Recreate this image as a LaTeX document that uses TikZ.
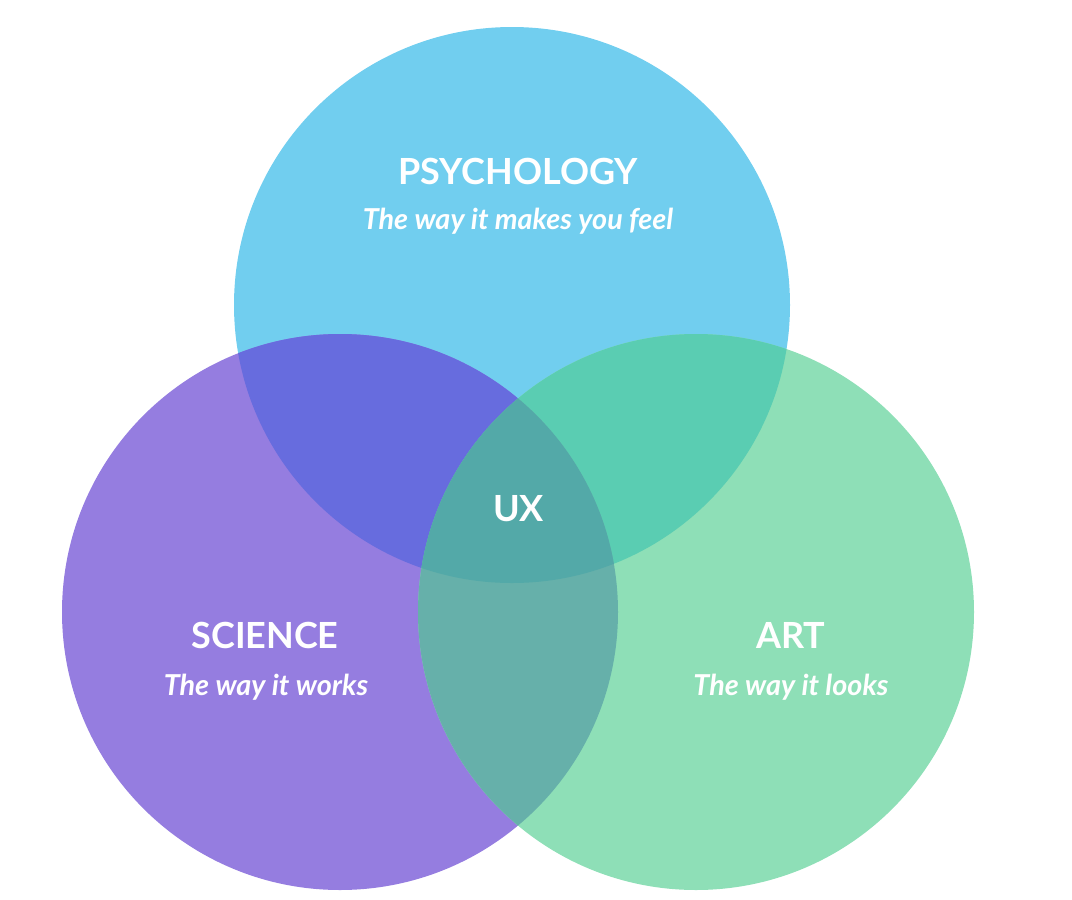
\documentclass[tikz,border=0pt]{standalone}
\usepackage{fontspec}
\setmainfont{Lato}
\definecolor{psy}{HTML}{71CEEF}
\definecolor{sci}{HTML}{957DE0}
\definecolor{art}{HTML}{8EDFB7}
\definecolor{psysci}{HTML}{676CDE}
\definecolor{psyart}{HTML}{5ACDB2}
\definecolor{sciart}{HTML}{66B0AA}
\definecolor{allc}{HTML}{53A9A8}
\tikzset{
  title/.style={text=white, font=\fontsize{36}{40}\selectfont\bfseries, anchor=base, inner sep=0pt},
  sub/.style={text=white, font=\fontsize{28.8}{32}\selectfont\bfseries\itshape, anchor=base, inner sep=0pt}
}
\begin{document}
\begin{tikzpicture}[x=1pt,y=-1pt]
\useasboundingbox (0,0) rectangle (1072,900);
\def\R{278}
\coordinate (cP) at (512,305);
\coordinate (cS) at (340,612);
\coordinate (cA) at (696,612);
\fill[psy] (cP) circle (\R);
\fill[sci] (cS) circle (\R);
\fill[art] (cA) circle (\R);
\begin{scope}
  \clip (cP) circle (\R);
  \fill[psysci] (cS) circle (\R);
  \fill[psyart] (cA) circle (\R);
\end{scope}
\begin{scope}
  \clip (cS) circle (\R);
  \fill[sciart] (cA) circle (\R);
  \clip (cA) circle (\R);
  \fill[allc] (cP) circle (\R);
\end{scope}
\node[title] (psyt) at (518,184) {PSYCHOLOGY};
\node[sub] (psys) at (518,229) {The way it makes you feel};
\node[title] (scit) at (265,648) {SCIENCE};
\node[sub] (scis) at (266,695) {The way it works};
\node[title] (artt) at (791,648) {ART};
\node[sub] (arts) at (791,695) {The way it looks};
\node[title] (ux) at (518.5,521) {UX};
\end{tikzpicture}
\end{document}
